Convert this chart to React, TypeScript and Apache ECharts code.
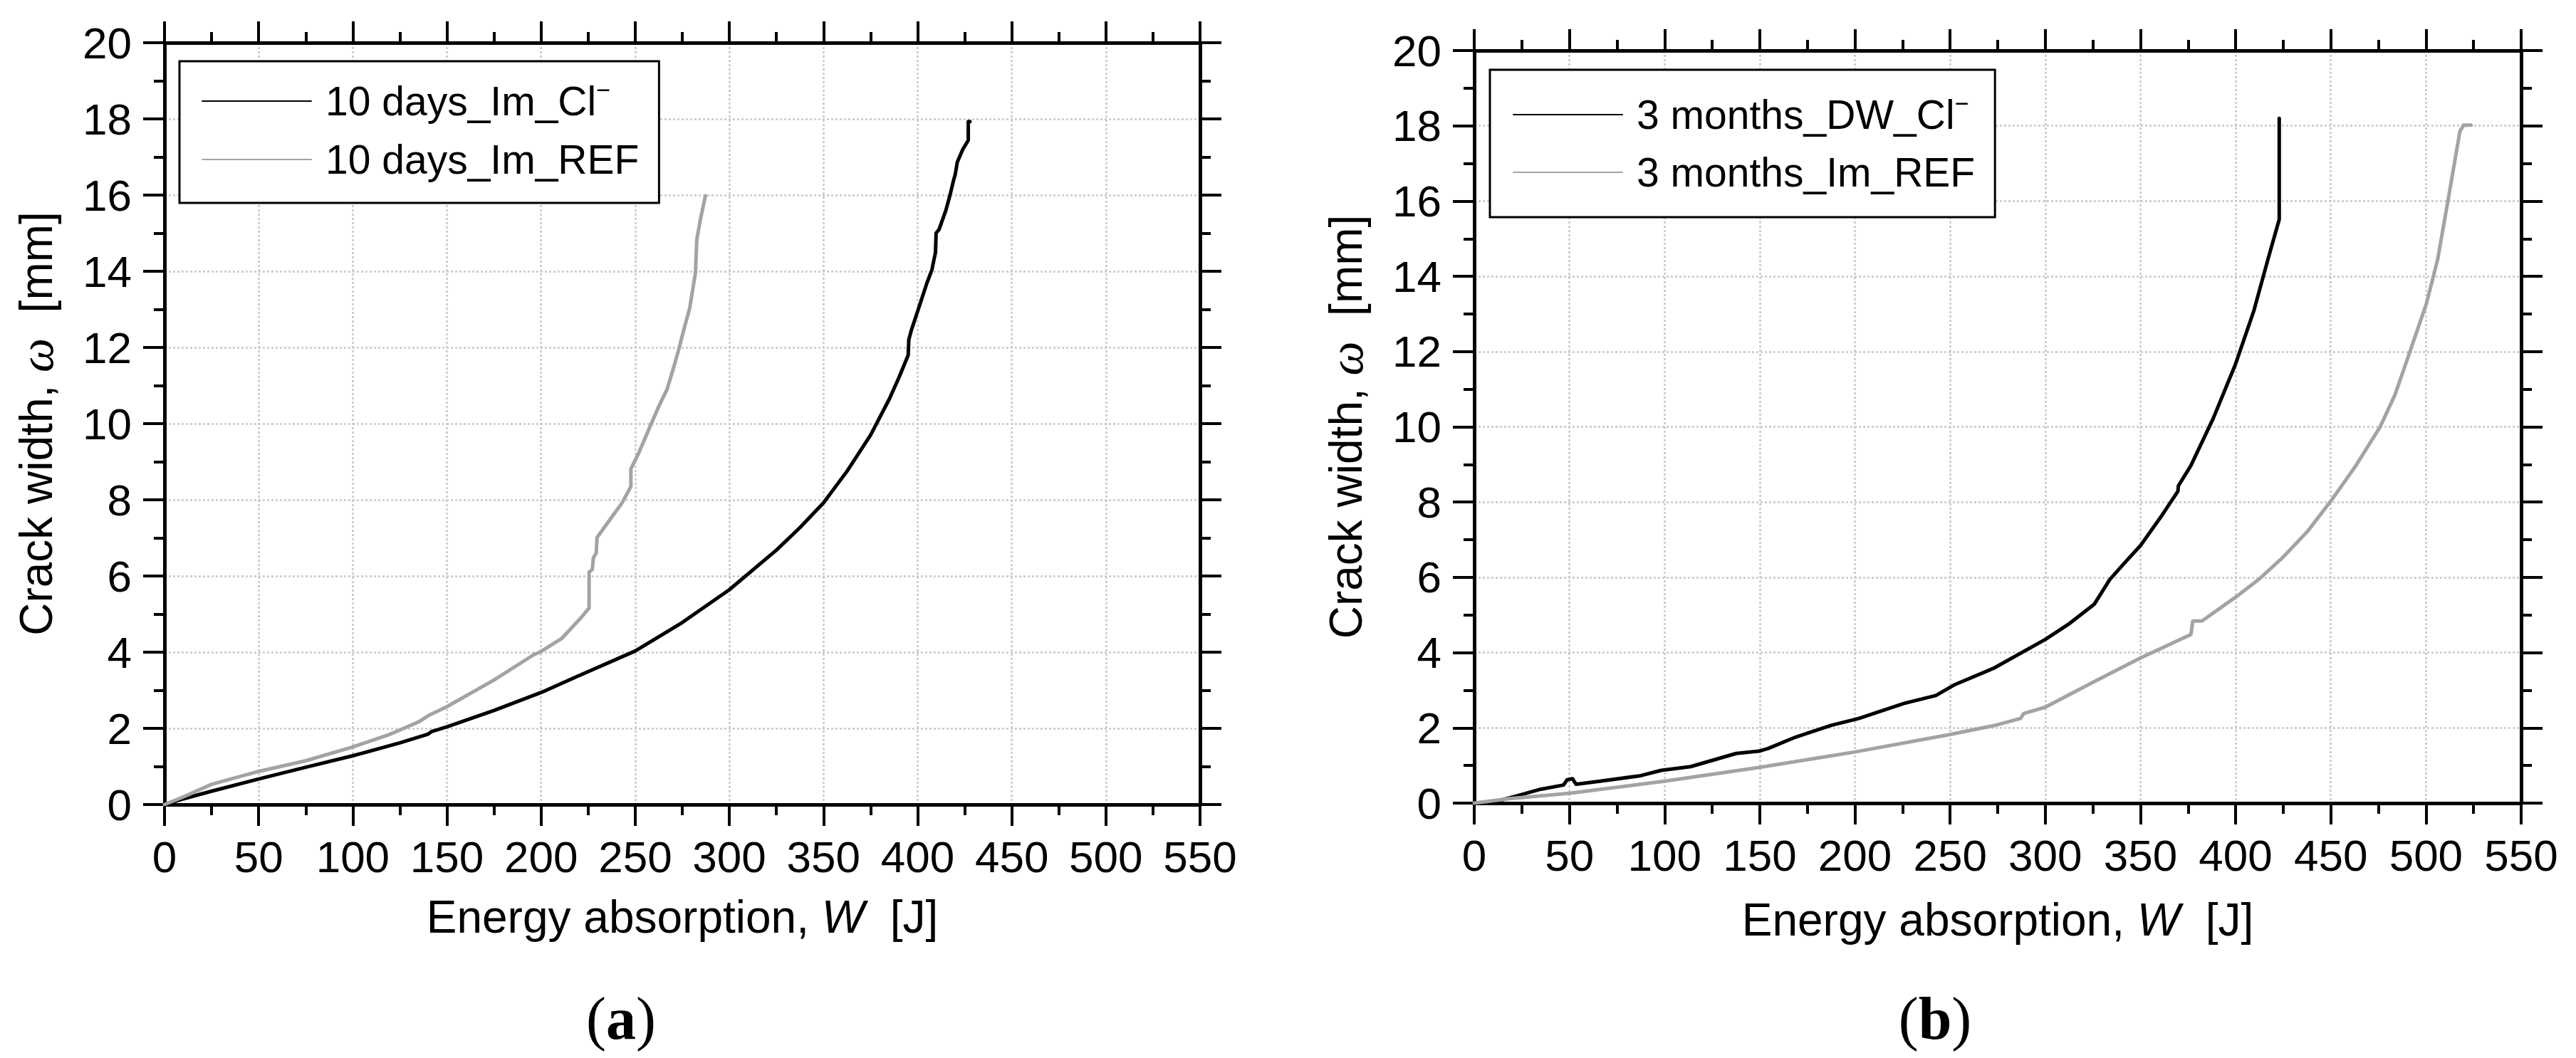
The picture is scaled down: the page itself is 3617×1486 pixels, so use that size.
import React, { useEffect, useRef } from 'react';
import * as echarts from 'echarts';

// ---------- data ----------
const xTickMax = 550;
const xTickStep = 50;
const yTickMax = 20;
const yTickStep = 2;

// (a) 10 days_Im_Cl-
const aClX = [0, 10, 25, 50, 75, 100, 125, 140, 142, 150, 175, 200, 219, 250, 275, 300, 325, 337.5, 350, 362.5, 375, 385, 390, 395, 395.3, 396.6, 400, 405, 407.6, 409.5, 409.8, 411.4, 415, 417.2, 419, 420, 421.1, 424, 426.9, 426.9, 427.8];
const aClY = [0, 0.15, 0.35, 0.67, 0.98, 1.28, 1.62, 1.85, 1.92, 2.04, 2.47, 2.94, 3.36, 4.03, 4.78, 5.64, 6.68, 7.27, 7.92, 8.75, 9.7, 10.65, 11.2, 11.8, 12.2, 12.44, 12.95, 13.7, 14.04, 14.5, 15.0, 15.1, 15.6, 16.0, 16.37, 16.55, 16.87, 17.2, 17.44, 17.93, 17.93];
// (a) 10 days_Im_REF
const aRefX = [0, 10, 25, 50, 75, 100, 120, 135, 140, 150, 175, 196, 200, 211, 221.5, 225.5, 225.5, 227.2, 227.8, 229.3, 229.7, 236.6, 242.9, 247.7, 247.7, 251.8, 258, 262.5, 266.9, 270, 273.2, 276, 278.9, 282, 282.7, 284.5, 287.3];
const aRefY = [0, 0.2, 0.53, 0.87, 1.15, 1.51, 1.85, 2.17, 2.33, 2.57, 3.27, 3.93, 4.02, 4.36, 4.92, 5.16, 6.1, 6.17, 6.48, 6.6, 7.01, 7.48, 7.91, 8.35, 8.81, 9.22, 9.94, 10.45, 10.9, 11.4, 11.96, 12.5, 13.02, 13.96, 14.83, 15.33, 15.98];
// (b) 3 months_DW_Cl-
const bClX = [0, 11.1, 23, 35, 46.9, 48.8, 51.6, 53.5, 66, 87.5, 98.2, 113.7, 137.6, 149.5, 154.3, 168.6, 187.7, 202, 225.9, 242.5, 252.1, 273.1, 300, 312.1, 325.8, 333.6, 334, 341.4, 350.1, 360.9, 369.7, 369.9, 376.5, 388.2, 399.9, 409.6, 417.4, 422.9, 422.9];
const bClY = [0, 0.04, 0.2, 0.37, 0.48, 0.62, 0.65, 0.5, 0.58, 0.73, 0.87, 0.97, 1.32, 1.38, 1.45, 1.75, 2.07, 2.25, 2.65, 2.86, 3.14, 3.59, 4.35, 4.75, 5.29, 5.92, 5.95, 6.37, 6.85, 7.62, 8.29, 8.43, 8.97, 10.22, 11.66, 13.09, 14.53, 15.51, 18.2];
// (b) 3 months_Im_REF
const bRefX = [0, 18.3, 49.8, 99.9, 150, 200.1, 249.7, 273.1, 287, 288.7, 300, 325.8, 350.1, 376.5, 377.5, 382.3, 399.9, 412.5, 425.2, 437.9, 450.2, 463.2, 475.9, 483.7, 490.5, 500.2, 506.1, 512, 517.8, 519.8, 523.7];
const bRefY = [0, 0.12, 0.26, 0.58, 0.95, 1.36, 1.82, 2.06, 2.25, 2.38, 2.55, 3.23, 3.86, 4.48, 4.84, 4.84, 5.47, 5.96, 6.55, 7.23, 8.04, 8.97, 10.0, 10.85, 11.84, 13.27, 14.44, 16.14, 17.85, 18.02, 18.02];

const seriesNames = ['10 days_Im_Cl', '10 days_Im_REF', '3 months_DW_Cl', '3 months_Im_REF'];
const superMinus = [true, false, true, false];
const panelLabels = ['a', 'b'];

// ---------- styles ----------
const SANS = 'Liberation Sans, Arial, sans-serif';
const SERIF = 'Liberation Serif, Times New Roman, serif';
const BLACK = '#000000';
const GRAY = '#a3a3a3';

function pairs(xs: number[], ys: number[]) {
  return xs.map((x, i) => [x, ys[i]]);
}

const grids = [
  { left: 231, top: 60, width: 1454, height: 1070 },
  { left: 2070, top: 71, width: 1470, height: 1057 },
];

const AXIS_W = 5;
const TICK_W = 4;

function makeXAxes(g: number, nameGap: number) {
  const common = {
    gridIndex: g,
    type: 'value',
    min: 0,
    max: xTickMax,
    interval: xTickStep,
    axisLine: { show: true, onZero: false, lineStyle: { color: BLACK, width: AXIS_W } },
    axisTick: { show: true, inside: false, length: 30, lineStyle: { color: BLACK, width: TICK_W } },
    minorTick: { show: true, splitNumber: 2, length: 15, lineStyle: { color: BLACK, width: TICK_W } },
  };
  return [
    {
      ...common,
      position: 'bottom',
      splitLine: { show: true, lineStyle: { color: '#c8c8c8', width: 2.5, type: [3, 3] } },
      axisLabel: { show: true, fontSize: 62, color: BLACK, margin: 42, fontFamily: SANS },
      name: '{t|Energy absorption, }{w|W}{t|  [J]}',
      nameLocation: 'middle',
      nameGap,
      nameTextStyle: {
        color: BLACK,
        fontSize: 64,
        rich: {
          t: { fontSize: 64, fontFamily: SANS, color: BLACK },
          w: { fontSize: 64, fontFamily: SANS, fontStyle: 'italic', color: BLACK },
        },
      },
    },
    {
      ...common,
      position: 'top',
      splitLine: { show: false },
      axisLabel: { show: false },
    },
  ];
}

function makeYAxes(g: number) {
  const common = {
    gridIndex: g,
    type: 'value',
    min: 0,
    max: yTickMax,
    interval: yTickStep,
    axisLine: { show: true, onZero: false, lineStyle: { color: BLACK, width: AXIS_W } },
    axisTick: { show: true, inside: false, length: 30, lineStyle: { color: BLACK, width: TICK_W } },
    minorTick: { show: true, splitNumber: 2, length: 15, lineStyle: { color: BLACK, width: TICK_W } },
  };
  return [
    {
      ...common,
      position: 'left',
      splitLine: { show: true, lineStyle: { color: '#c8c8c8', width: 2.5, type: [3, 3] } },
      axisLabel: { show: true, fontSize: 62, color: BLACK, margin: 46, fontFamily: SANS },
      name: '{t|Crack width, }{w|ω}{t|  [mm]}',
      nameLocation: 'middle',
      nameGap: 146,
      nameRotate: 90,
      nameTextStyle: {
        color: BLACK,
        fontSize: 64,
        rich: {
          t: { fontSize: 64, fontFamily: SANS, color: BLACK },
          w: { fontSize: 68, fontFamily: SERIF, fontStyle: 'italic', color: BLACK },
        },
      },
    },
    {
      ...common,
      position: 'right',
      splitLine: { show: false },
      axisLabel: { show: false },
    },
  ];
}

function legendFormatter(name: string) {
  const i = seriesNames.indexOf(name);
  return superMinus[i] ? `{t|${name}}{s|−}` : `{t|${name}}`;
}

function makeLegend(names: string[], left: number, top: number, padding: number[], itemGap: number, fontSize: number) {
  return {
    data: names,
    orient: 'vertical',
    left,
    top,
    padding,
    itemGap,
    itemWidth: 153,
    itemHeight: 10,
    borderColor: BLACK,
    borderWidth: 3,
    borderRadius: 0,
    backgroundColor: '#ffffff',
    selectedMode: false,
    itemStyle: { opacity: 0 },
    formatter: legendFormatter,
    textStyle: {
      color: BLACK,
      fontSize,
      fontFamily: SANS,
      lineHeight: 66,
      padding: [0, 0, 0, 15],
      rich: {
        t: { fontSize, fontFamily: SANS, color: BLACK, lineHeight: 66 },
        s: { fontSize: 34, fontFamily: SANS, color: BLACK, verticalAlign: 'top', lineHeight: 66 },
      },
    },
  };
}

function makeLine(name: string, xs: number[], ys: number[], color: string, axisIdx: number) {
  return {
    name,
    type: 'line',
    xAxisIndex: axisIdx,
    yAxisIndex: axisIdx,
    data: pairs(xs, ys),
    showSymbol: false,
    symbol: 'none',
    smooth: false,
    color,
    lineStyle: { color, width: 5, join: 'round', cap: 'round' },
    itemStyle: { color },
    z: 5,
  };
}

export default function App() {
  const ref = useRef<HTMLDivElement>(null);

  useEffect(() => {
    if (!ref.current) return;
    const chart = echarts.init(ref.current, null, { renderer: 'svg' });
    const [xa0, xa1] = makeXAxes(0, 126);
    const [xb0, xb1] = makeXAxes(1, 132);
    const [ya0, ya1] = makeYAxes(0);
    const [yb0, yb1] = makeYAxes(1);

    const labelRich = {
      p: { fontFamily: SERIF, fontSize: 84, color: BLACK },
      b: { fontFamily: SERIF, fontSize: 84, fontWeight: 'bold', color: BLACK },
    };

    const option = {
      animation: false,
      backgroundColor: '#ffffff',
      textStyle: { fontFamily: SANS },
      grid: grids,
      xAxis: [xa0, xa1, xb0, xb1],
      yAxis: [ya0, ya1, yb0, yb1],
      legend: [
        makeLegend([seriesNames[0], seriesNames[1]], 252, 86, [23, 28, 28, 31], 16, 57),
        makeLegend([seriesNames[2], seriesNames[3]], 2092, 98, [30, 28, 30, 32], 15, 57),
      ],
      series: [
        makeLine(seriesNames[0], aClX, aClY, BLACK, 0),
        makeLine(seriesNames[1], aRefX, aRefY, GRAY, 0),
        makeLine(seriesNames[2], bClX, bClY, BLACK, 2),
        makeLine(seriesNames[3], bRefX, bRefY, GRAY, 2),
      ],
      graphic: [
        {
          type: 'text',
          x: 872,
          y: 1430,
          style: {
            text: `{p|(}{b|${panelLabels[0]}}{p|)}`,
            rich: labelRich,
            align: 'center',
            verticalAlign: 'middle',
            textAlign: 'center',
            textVerticalAlign: 'middle',
          },
        },
        {
          type: 'text',
          x: 2717,
          y: 1430,
          style: {
            text: `{p|(}{b|${panelLabels[1]}}{p|)}`,
            rich: labelRich,
            align: 'center',
            verticalAlign: 'middle',
            textAlign: 'center',
            textVerticalAlign: 'middle',
          },
        },
      ],
    };
    chart.setOption(option as any);
    return () => {
      chart.dispose();
    };
  }, []);

  return (
    <div
      ref={ref}
      style={{ position: 'fixed', left: 0, top: 0, width: 3617, height: 1486, background: '#fff' }}
    />
  );
}
